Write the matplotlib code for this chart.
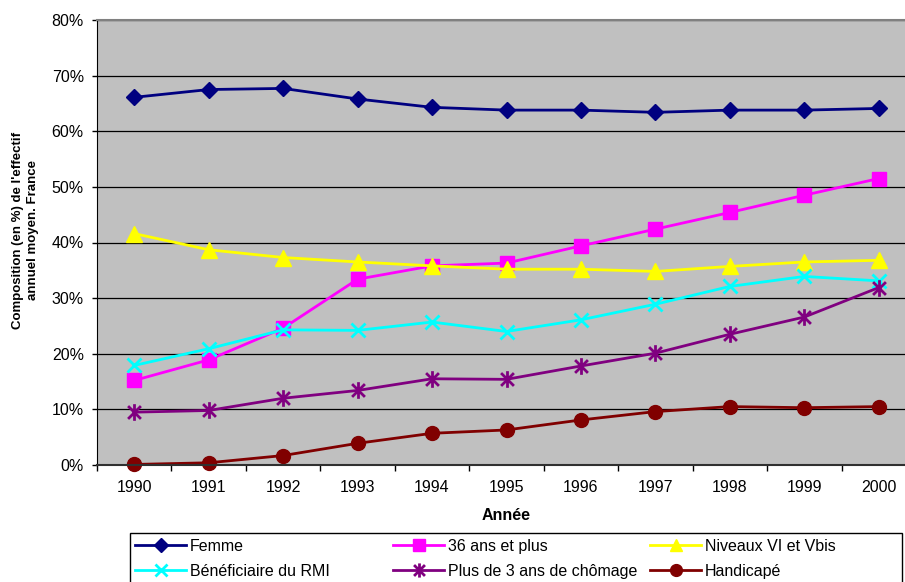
import matplotlib.pyplot as plt
import numpy as np
from matplotlib.path import Path
from matplotlib.patches import Rectangle
from matplotlib.ticker import FixedLocator, PercentFormatter

plt.rcParams['font.family'] = ['Liberation Sans', 'DejaVu Sans']

annees = [1990, 1991, 1992, 1993, 1994, 1995, 1996, 1997, 1998, 1999, 2000]
femme = [66.1, 67.5, 67.7, 65.8, 64.3, 63.8, 63.8, 63.4, 63.8, 63.8, 64.1]
ans36 = [15.2, 18.9, 24.6, 33.4, 35.8, 36.3, 39.4, 42.4, 45.4, 48.5, 51.5]
niveaux = [41.6, 38.7, 37.3, 36.5, 35.8, 35.2, 35.2, 34.8, 35.7, 36.5, 36.8]
rmi = [17.9, 20.9, 24.3, 24.2, 25.7, 24.0, 26.1, 28.9, 32.1, 33.9, 33.1]
chomage = [9.5, 9.8, 12.0, 13.4, 15.5, 15.4, 17.8, 20.1, 23.5, 26.6, 31.9]
handicape = [0.1, 0.4, 1.7, 3.9, 5.7, 6.3, 8.1, 9.6, 10.5, 10.3, 10.5]

# asterisk marker: an x with a vertical bar through it
star = Path([(-1, -1), (1, 1), (-1, 1), (1, -1), (0, -1.3), (0, 1.3)],
            [Path.MOVETO, Path.LINETO, Path.MOVETO, Path.LINETO, Path.MOVETO, Path.LINETO])

series = [
    ('Femme', femme, '#000080', dict(marker='D', ms=8)),
    ('36 ans et plus', ans36, '#FF00FF', dict(marker='s', ms=10)),
    ('Niveaux VI et Vbis', niveaux, '#FFFF00', dict(marker='^', ms=11)),
    ('Bénéficiaire du RMI', rmi, '#00FFFF', dict(marker='x', ms=10, mew=2)),
    ('Plus de 3 ans de chômage', chomage, '#800080', dict(marker=star, ms=12, mew=2, mfc='none')),
    ('Handicapé', handicape, '#800000', dict(marker='o', ms=10)),
]

fig = plt.figure(figsize=(9.05, 5.82), dpi=100)
ax = fig.add_axes([97 / 905, 117 / 582, 819 / 905, 445 / 582])
ax.set_facecolor('#C0C0C0')

handles = []
for nom, vals, col, mk in series:
    h, = ax.plot(annees, vals, color=col, lw=2, label=nom, clip_on=False, **mk)
    handles.append(h)

ax.set_xlim(1989.5, 2000.5)
ax.set_ylim(0, 80)
ax.set_yticks(np.arange(0, 81, 10))
ax.yaxis.set_major_formatter(PercentFormatter(decimals=0))
ax.yaxis.grid(True, color='black', lw=0.9)
ax.set_axisbelow(True)
ax.set_xticks(annees)
ax.set_xticklabels([str(a) for a in annees])
ax.xaxis.set_minor_locator(FixedLocator(np.arange(1989.5, 2001, 1)))
ax.tick_params(axis='x', which='major', length=0, pad=11, labelsize=11.5)
ax.tick_params(axis='x', which='minor', length=4, width=1, direction='out')
ax.tick_params(axis='y', length=3.5, width=1, pad=6, labelsize=11.5)

ax.spines['top'].set_color('#808080')
ax.spines['top'].set_linewidth(1.5)
ax.spines['right'].set_visible(False)
ax.spines['left'].set_color('black')
ax.spines['bottom'].set_color('#303030')
ax.spines['bottom'].set_linewidth(1.5)

fig.text(25.5 / 905, 1 - 230 / 582, "Composition (en %) de l'effectif\nannuel moyen. France",
         rotation=90, ha='center', va='center', fontsize=9.5, fontweight='bold',
         multialignment='center', linespacing=1.25)
fig.text(506.5 / 905, 1 - 515 / 582, 'Année', ha='center', va='center',
         fontsize=11.5, fontweight='bold')

# legend frame, open at the bottom of the figure
fig.patches.append(Rectangle((130 / 905, -0.05), 772 / 905, 0.05 + 1 - 533 / 582,
                             transform=fig.transFigure, fill=False, ec='black', lw=1))

cols_x = [135, 393, 650]
for i, x0 in enumerate(cols_x):
    fig.legend([handles[i], handles[i + 3]], [series[i][0], series[i + 3][0]],
               loc='center left', bbox_to_anchor=(x0 / 905, 1 - 559 / 582),
               frameon=False, fontsize=11.5, borderpad=0, borderaxespad=0,
               handlelength=3.2, handletextpad=0.25, labelspacing=0.62,
               markerscale=0.85)

fig.savefig('out.png', dpi=100)
